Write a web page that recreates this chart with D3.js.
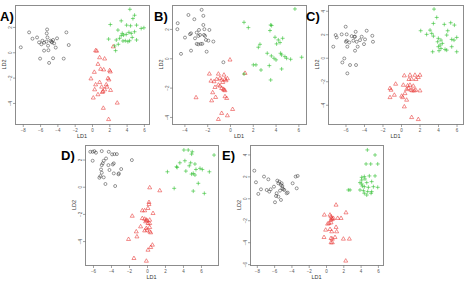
<!DOCTYPE html>
<html>
<head>
<meta charset="utf-8">
<script src="https://cdn.jsdelivr.net/npm/d3@7"></script>
<style>
  body { margin: 0; background: #fff; }
  svg { display: block; font-family: Arial, "Liberation Sans", sans-serif; }
</style>
</head>
<body>
<script>
// five LDA score plots, three groups each (LD1, LD2)

const panelNames = ["A)", "B)", "C)", "D)", "E)"];

const aCircles = [[-8.23,0.39],[-7.27,1.57],[-6.88,1.07],[-6.35,1.17],[-6.12,0.78],[-5.85,0.63],[-5.73,0.91],[-5.54,0.76],[-6.0,-0.5],[-5.54,0.13],[-5.23,1.49],[-5.19,1.8],[-5.15,1.17],[-5.27,0.84],[-5.04,0.16],[-4.96,-0.84],[-4.81,0.91],[-4.69,0.84],[-4.62,0.78],[-4.5,0.97],[-4.38,0.7],[-4.5,-0.47],[-4.19,0.37],[-4.04,1.1],[-3.27,-0.5],[-2.96,1.57],[-2.69,0.57],[-5.08,0.52]];
const aCrosses = [[4.38,3.39],[4.92,2.92],[4.73,2.66],[2.12,2.19],[3.38,2.48],[4.0,2.14],[4.46,2.09],[5.15,2.14],[5.69,1.88],[6.0,1.93],[3.0,1.75],[3.5,1.49],[3.65,1.36],[3.96,1.41],[4.27,1.57],[4.54,1.49],[4.92,1.62],[1.92,1.04],[2.81,0.97],[3.19,1.1],[3.58,0.89],[3.85,0.91],[4.15,0.84],[4.35,0.91],[5.15,0.97],[3.04,0.63],[2.73,0.13],[2.62,0.5],[4.65,1.17],[3.38,1.31]];
const aTriangles = [[2.46,0.44],[0.42,0.13],[0.54,0.1],[0.88,-0.42],[1.46,-0.52],[0.69,-0.94],[1.0,-1.33],[1.35,-1.38],[2.04,-1.44],[2.12,-1.54],[0.27,-1.57],[-0.12,-2.09],[0.42,-2.56],[0.88,-2.38],[1.85,-2.06],[1.96,-2.17],[1.73,-2.74],[1.46,-2.95],[1.27,-3.08],[1.19,-3.16],[2.15,-3.0],[0.31,-2.95],[0.69,-3.34],[0.15,-3.6],[2.92,-4.0],[1.31,-4.41],[1.92,-5.3],[1.12,-2.74],[1.65,-2.56]];

const bCircles = [[-4.59,2.39],[-4.62,1.98],[-4.3,0.3],[-3.95,1.41],[-3.65,2.95],[-3.51,1.64],[-3.42,1.7],[-3.13,2.66],[-3.07,1.36],[-2.92,0.98],[-2.78,0.95],[-2.72,1.93],[-2.78,1.52],[-2.57,0.98],[-2.49,3.3],[-2.34,2.89],[-2.28,1.59],[-2.25,1.98],[-2.34,2.27],[-2.19,1.52],[-2.11,1.25],[-2.05,0.45],[-1.9,1.2],[-1.81,1.93],[-1.46,1.14],[-0.58,-0.27],[-3.42,0.52],[-2.43,0.98],[-2.63,1.59],[-2.92,1.75]];
const bCrosses = [[5.7,3.36],[1.23,2.45],[1.61,2.09],[3.57,2.27],[3.65,2.23],[3.51,1.89],[3.95,1.43],[4.09,0.98],[4.24,1.25],[4.39,1.07],[4.62,1.36],[2.63,0.95],[2.49,0.75],[3.27,0.34],[3.63,0.16],[3.86,0.0],[4.04,-0.11],[4.44,0.34],[4.53,0.23],[4.82,0.11],[4.97,0.0],[5.32,-0.07],[6.29,0.07],[2.05,-0.45],[2.28,-0.45],[2.72,-0.8],[3.45,-0.5],[4.53,-0.73],[3.57,-1.48],[1.23,-1.07]];
const bTriangles = [[0,-0.11],[-1.81,-1.07],[-1.67,-1.55],[-1.4,-1.59],[-1.17,-1.43],[-1.02,-1.07],[-0.88,-1.36],[-0.73,-1.48],[-0.64,-1.64],[-0.53,-1.14],[-0.44,-1.43],[-0.35,-1.52],[-0.23,-1.39],[-1.02,-1.82],[-0.88,-1.89],[-0.73,-2.05],[-0.58,-2.11],[-0.53,-2.16],[-0.44,-2.2],[-1.32,-1.98],[-1.52,-2.34],[-2.98,-2.68],[-1.61,-2.89],[-1.26,-2.66],[-0.44,-2.61],[-0.29,-2.73],[0.23,-3.48],[-0.73,-3.75],[-0.23,-3.91],[-1.02,-4.16],[1.32,-1.02]];

const cCircles = [[-7.32,0.94],[-7.06,1.93],[-6.95,1.73],[-6.41,1.99],[-6.34,-0.4],[-6.13,-0.06],[-5.98,2.64],[-5.87,1.99],[-5.95,1.36],[-5.8,0.94],[-5.87,1.45],[-5.59,1.3],[-5.51,-0.62],[-5.33,1.84],[-5.15,1.45],[-4.97,1.79],[-4.97,0.6],[-4.9,2.21],[-4.79,1.36],[-4.86,-0.62],[-4.68,0.94],[-4.43,1.5],[-4.25,1.79],[-4.0,1.16],[-3.89,1.56],[-3.71,2.3],[-3.1,1.87],[-3.03,1.36],[-5.8,-1.33],[-5.04,1.79]];
const cCrosses = [[3.57,4.14],[3.86,3.43],[3.5,2.92],[5.37,2.98],[5.77,2.78],[4.68,2.84],[3.14,2.35],[2.13,2.3],[2.77,1.99],[3.32,2.07],[5.05,2.3],[4.04,1.65],[4.32,1.5],[3.96,1.36],[4.47,1.22],[5.48,1.56],[5.73,1.5],[6.02,1.73],[4.04,0.94],[4.32,0.79],[4.11,0.6],[4.76,0.71],[4.94,0.65],[3.42,0.51],[5.48,0.94],[6.02,0.51],[4.22,1.08],[4.94,1.93],[3.5,1.84]];
const cTriangles = [[0.36,-1.53],[0.97,-1.48],[1.51,-1.48],[2.05,-1.48],[0.86,-1.84],[1.15,-1.82],[1.62,-1.84],[1.87,-1.67],[-0.58,-2.24],[0.25,-2.33],[0.72,-2.38],[0.97,-2.33],[1.33,-2.41],[0.79,-2.61],[1.08,-2.75],[1.23,-2.81],[1.44,-2.81],[1.59,-2.75],[2.05,-2.81],[-1.19,-2.61],[-1.08,-2.75],[-0.72,-3.18],[-1.19,-3.38],[0.07,-3.26],[0.18,-3.38],[0.43,-3.04],[0.61,-2.7],[0.36,-4.17],[1.15,-5.08],[1.87,-5.25],[0.61,-3.6]];

const dCircles = [[-6.3,2.57],[-6.04,2.57],[-5.85,2.62],[-5.67,2.5],[-5.03,2.62],[-4.25,2.57],[-3.88,2.38],[-3.62,2.4],[-3.35,2.4],[-6.04,1.91],[-4.81,1.91],[-4.55,2.08],[-5.03,1.59],[-4.92,1.72],[-4.29,1.59],[-3.8,1.64],[-3.69,1.72],[-4.17,1.23],[-2.87,1.3],[-5.11,1.27],[-5.03,1.03],[-5.18,0.78],[-4.81,0.69],[-5.29,0.66],[-3.69,0.98],[-3.17,0.91],[-3.13,0.98],[-4.62,0.2],[-3.54,0.05],[-1.68,1.96]];
const dCrosses = [[4.1,2.7],[4.58,2.7],[5.03,2.57],[4.96,2.4],[7.45,2.33],[3.65,1.76],[4.21,1.91],[4.85,1.76],[5.33,1.67],[3.28,1.47],[3.35,1.42],[4.32,1.15],[2.27,1.1],[4.96,0.93],[5.14,0.98],[5.33,0.86],[5.89,1.35],[6.15,1.27],[6.93,1.1],[5.44,1.27],[5.7,0.25],[3.02,-0.12],[5.14,-0.32],[6.37,-0.49],[4.7,1.54]];
const dTriangles = [[0.3,-0.07],[1.42,-0.29],[0.22,-1.15],[0.22,-1.3],[0.11,-1.59],[-0.52,-1.76],[-0.26,-1.76],[0.67,-1.96],[-1.64,-2.16],[-0.52,-2.33],[-0.26,-2.38],[-0.07,-2.45],[-0.15,-2.57],[0,-2.5],[0.11,-2.7],[0.3,-2.45],[0.3,-2.7],[0.3,-2.99],[-0.07,-3.06],[0,-3.19],[-0.26,-3.24],[-1.19,-3.31],[-0.71,-2.94],[0.3,-3.31],[0.41,-3.38],[-1.12,-3.68],[-2.05,-3.87],[0.6,-4.29],[0.41,-4.46],[0.11,-4.66],[-1.45,-5.27],[-0.07,-5.47]];

const eCircles = [[-8.29,2.52],[-8.1,1.46],[-7.83,0.4],[-7.52,0.82],[-7.17,1.98],[-6.86,0.76],[-6.67,1.73],[-6.56,0.61],[-6.4,0.82],[-6.02,1.06],[-5.9,-0.36],[-5.78,0.21],[-5.71,0.46],[-5.63,1.61],[-5.51,1.37],[-5.4,1.52],[-5.32,0.7],[-5.21,1.22],[-5.13,1.37],[-5.05,0.91],[-4.94,0.82],[-5.05,1.12],[-4.82,0.76],[-4.55,0.46],[-4.43,0.52],[-3.86,1.37],[-3.51,1.98],[-3.39,0.91],[-3.28,2.04],[-5.21,-0.15],[-5.51,0.15]];
const eCrosses = [[4.78,4.41],[5.67,3.95],[4.63,3.13],[5.17,3.13],[5.98,3.13],[4.13,1.91],[4.43,1.98],[5.01,2.04],[5.67,2.04],[3.93,1.43],[4.71,1.43],[5.28,1.52],[4.13,1.31],[4.2,1.12],[4.43,1.06],[4.9,1.0],[5.48,1.06],[5.98,1.0],[3.93,0.76],[4.32,0.7],[4.82,0.61],[5.28,0.61],[4.43,0.46],[4.71,0.3],[2.78,0.76],[2.58,0.76],[4.51,1.76],[4.13,1.67],[5.21,0.46]];
const eTriangles = [[1.16,-0.61],[2.31,-1.31],[-0.19,-1.52],[0.46,-1.52],[0.58,-1.67],[0.66,-1.82],[0.73,-1.91],[0.58,-1.98],[0.35,-2.28],[0.58,-2.22],[0.85,-1.82],[1.35,-1.82],[1.74,-1.82],[0.19,-2.34],[-0.04,-2.89],[0.46,-2.83],[0.66,-3.04],[1.16,-2.64],[1.23,-3.04],[-0.23,-3.56],[0.58,-3.65],[0.73,-3.71],[1.04,-3.56],[0.58,-4.04],[0.73,-4.04],[2.01,-3.71],[2.7,-3.71],[2.28,-5.71]];

const xTicks = [[-8,-6,-4,-2,0,2,4,6],[-4,-2,0,2,4,6],[-6,-4,-2,0,2,4,6],[-6,-4,-2,0,2,4,6],[-8,-6,-4,-2,0,2,4,6]];
const yTicks = [[-4,-2,0,2],[-4,-2,0,2],[-4,-2,0,2,4],[-4,-2,0,2],[-6,-4,-2,0,2,4]];

const circleSets = [aCircles, bCircles, cCircles, dCircles, eCircles];
const crossSets = [aCrosses, bCrosses, cCrosses, dCrosses, eCrosses];
const triangleSets = [aTriangles, bTriangles, cTriangles, dTriangles, eTriangles];

// layout: plot box in pixels + axis range for each panel
const layout = [
  {box: [15, 5, 149, 124], xd: [-8.9, 6.59], yd: [-5.66, 3.73], lab: [0, 21]},
  {box: [172, 5, 306, 124], xd: [-5.09, 6.67], yd: [-4.48, 3.63], lab: [154, 21]},
  {box: [328, 5, 463, 124], xd: [-7.89, 6.7], yd: [-5.64, 4.49], lab: [306, 21]},
  {box: [85, 145, 218, 265], xd: [-6.89, 7.89], yd: [-5.76, 3.07], lab: [61, 160]},
  {box: [250, 145, 383, 265], xd: [-8.79, 6.59], yd: [-6.08, 4.86], lab: [222, 160]}
];

const W = 464, H = 282;
const svg = d3.select("body").append("svg").attr("width", W).attr("height", H);

const plusPath = "M-2,0H2M0,-2V2";
const tri = d3.symbol().type(d3.symbolTriangle).size(7);

layout.forEach((p, i) => {
  const [x0, y0, x1, y1] = p.box;
  const x = d3.scaleLinear().domain(p.xd).range([x0, x1]);
  const y = d3.scaleLinear().domain(p.yd).range([y1, y0]);
  const g = svg.append("g");

  g.append("rect")
    .attr("x", x0 + 0.5).attr("y", y0 + 0.5)
    .attr("width", x1 - x0).attr("height", y1 - y0)
    .attr("fill", "none").attr("stroke", "#8c8c8c").attr("stroke-width", 1);

  const xAxis = g.append("g")
    .attr("transform", `translate(0,${y1 + 0.5})`)
    .call(d3.axisBottom(x).tickValues(xTicks[i]).tickSize(2.5).tickSizeOuter(0).tickPadding(1.5));
  const yAxis = g.append("g")
    .attr("transform", `translate(${x0 + 0.5},0)`)
    .call(d3.axisLeft(y).tickValues(yTicks[i]).tickSize(2.5).tickSizeOuter(0).tickPadding(1.5));

  [xAxis, yAxis].forEach(a => {
    a.select(".domain").remove();
    a.selectAll("line").attr("stroke", "#666").attr("stroke-width", 0.6);
    a.selectAll("text").attr("font-size", 4.5).attr("fill", "#555").attr("font-family", "Arial, sans-serif");
  });
  // R style: y tick labels run parallel to the axis
  yAxis.selectAll("text")
    .attr("text-anchor", "middle")
    .attr("transform", "translate(-5,0) rotate(-90)")
    .attr("x", 0).attr("y", 0).attr("dy", "0.35em");

  g.append("text")
    .attr("x", (x0 + x1) / 2).attr("y", y1 + 14)
    .attr("text-anchor", "middle").attr("font-size", 5.5).attr("fill", "#333")
    .text("LD1");
  g.append("text")
    .attr("transform", `translate(${x0 - 9},${(y0 + y1) / 2}) rotate(-90)`)
    .attr("text-anchor", "middle").attr("font-size", 5.5).attr("fill", "#333")
    .text("LD2");

  g.selectAll(".c").data(circleSets[i]).enter().append("circle")
    .attr("cx", d => x(d[0])).attr("cy", d => y(d[1])).attr("r", 1.5)
    .attr("fill", "none").attr("stroke", "#333").attr("stroke-width", 0.5);

  g.selectAll(".t").data(triangleSets[i]).enter().append("path")
    .attr("d", tri)
    .attr("transform", d => `translate(${x(d[0])},${y(d[1])})`)
    .attr("fill", "none").attr("stroke", "#e8322f").attr("stroke-width", 0.55);

  g.selectAll(".p").data(crossSets[i]).enter().append("path")
    .attr("d", plusPath)
    .attr("transform", d => `translate(${x(d[0])},${y(d[1])})`)
    .attr("fill", "none").attr("stroke", "#2fc02f").attr("stroke-width", 0.6);

  g.append("text")
    .attr("x", p.lab[0]).attr("y", p.lab[1])
    .attr("font-size", 13).attr("font-weight", "bold").attr("fill", "#000")
    .text(panelNames[i]);
});
</script>
</body>
</html>
